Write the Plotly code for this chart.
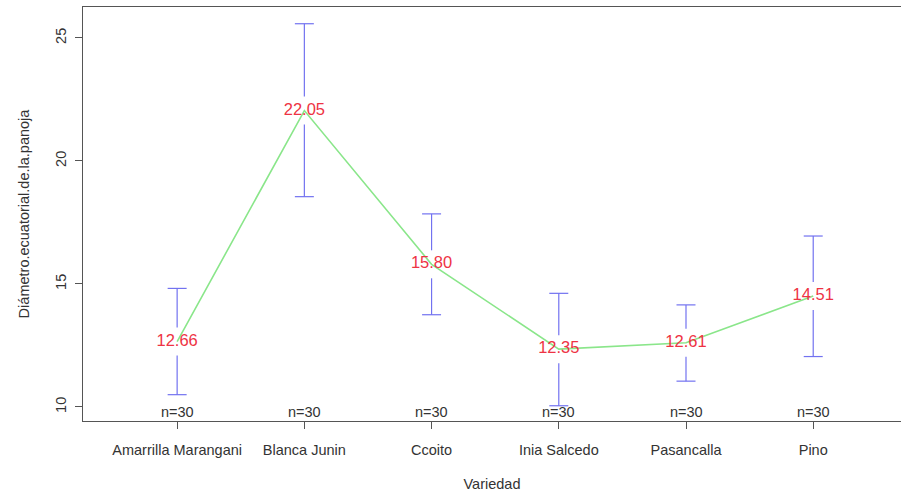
import plotly.graph_objects as go

# Mean equatorial panicle diameter per variety, with 95% confidence limits
varieties = ["Amarrilla Marangani", "Blanca Junin", "Ccoito",
             "Inia Salcedo", "Pasancalla", "Pino"]
means = [12.66, 22.05, 15.80, 12.35, 12.61, 14.51]
ci_low = [10.50, 18.55, 13.75, 10.05, 11.05, 12.05]
ci_high = [14.82, 25.58, 17.85, 14.62, 14.15, 16.95]
n_obs = [30, 30, 30, 30, 30, 30]

x_pos = list(range(1, len(varieties) + 1))

# axis geometry (pixels) used to convert the label gap and cap width to data units
W, H = 902, 492
M_L, M_R, M_T, M_B = 83, 1, 7, 71
X_RANGE = [0.26, 6.69]
Y_RANGE = [9.43, 26.26]
px_per_y = (H - M_T - M_B) / (Y_RANGE[1] - Y_RANGE[0])
px_per_x = (W - M_L - M_R) / (X_RANGE[1] - X_RANGE[0])
gap = 14 / px_per_y
cap = 9.5 / px_per_x

# vertical interval bars broken around the mean label, plus end caps
bx, by = [], []
for x, m, lo, hi in zip(x_pos, means, ci_low, ci_high):
    bx += [x, x, None, x, x, None]
    by += [hi, m + gap, None, m - gap, lo, None]
    bx += [x - cap, x + cap, None, x - cap, x + cap, None]
    by += [hi, hi, None, lo, lo, None]

font_family = "Liberation Sans, Arial, sans-serif"
ink = "#333333"

fig = go.Figure()
fig.add_trace(go.Scatter(x=bx, y=by, mode="lines",
                         line=dict(color="#7272f0", width=1.2),
                         hoverinfo="skip", showlegend=False))
fig.add_trace(go.Scatter(x=x_pos, y=means, mode="lines",
                         line=dict(color="#8ae68a", width=1.6),
                         showlegend=False))
fig.add_trace(go.Scatter(x=x_pos, y=means, mode="text",
                         text=[f"{m:.2f}" for m in means],
                         textposition="middle center",
                         textfont=dict(color="#ee3344", size=16.5, family=font_family),
                         showlegend=False))

for x, n in zip(x_pos, n_obs):
    fig.add_annotation(x=x, y=0, xref="x", yref="paper", yanchor="bottom",
                       text=f"n={n}", showarrow=False, yshift=-1,
                       font=dict(size=14.5, color=ink, family=font_family))

fig.update_layout(
    width=W, height=H,
    margin=dict(l=M_L, r=M_R, t=M_T, b=M_B),
    paper_bgcolor="white", plot_bgcolor="white",
    font=dict(family=font_family, size=14.5, color=ink),
    showlegend=False,
)
fig.update_xaxes(
    range=X_RANGE, tickmode="array", tickvals=x_pos, ticktext=varieties,
    showgrid=False, zeroline=False,
    showline=True, mirror=True, linecolor="#555555", linewidth=1,
    ticks="outside", ticklen=7, tickcolor="#555555", ticklabelstandoff=9,
    tickfont=dict(size=14.5, color=ink),
    title=dict(text="Variedad", font=dict(size=14.5, color=ink), standoff=21),
)
fig.update_yaxes(
    range=Y_RANGE, tickmode="array", tickvals=[10, 15, 20, 25],
    showgrid=False, zeroline=False,
    showline=True, mirror=False, linecolor="#555555", linewidth=1,
    ticks="outside", ticklen=7, tickcolor="#555555", tickangle=-90,
    ticklabelstandoff=3,
    tickfont=dict(size=14.5, color=ink),
    title=dict(text="Diámetro.ecuatorial.de.la.panoja",
               font=dict(size=14.5, color=ink), standoff=20),
)

fig.write_html("out.html")
